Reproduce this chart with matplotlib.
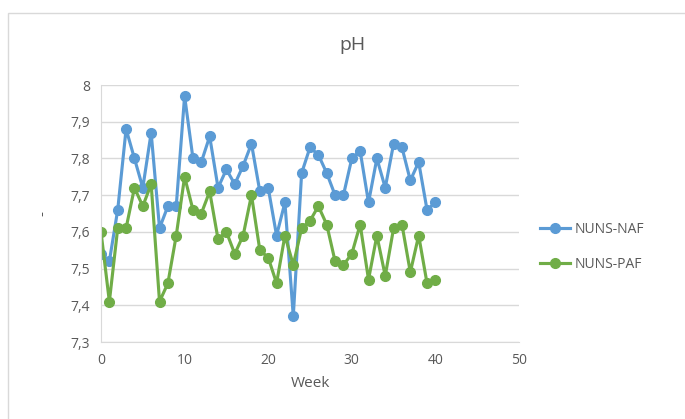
import numpy as np
import matplotlib.pyplot as plt
from matplotlib.patches import Rectangle
from matplotlib.ticker import FuncFormatter

plt.rcParams['font.family'] = ['Open Sans', 'DejaVu Sans']

weeks = list(range(0, 41))
nuns_naf = [7.54, 7.52, 7.66, 7.88, 7.80, 7.72, 7.87, 7.61, 7.67, 7.67,
            7.97, 7.80, 7.79, 7.86, 7.72, 7.77, 7.73, 7.78, 7.84, 7.71,
            7.72, 7.59, 7.68, 7.37, 7.76, 7.83, 7.81, 7.76, 7.70, 7.70,
            7.80, 7.82, 7.68, 7.80, 7.72, 7.84, 7.83, 7.74, 7.79, 7.66,
            7.68]
nuns_paf = [7.60, 7.41, 7.61, 7.61, 7.72, 7.67, 7.73, 7.41, 7.46, 7.59,
            7.75, 7.66, 7.65, 7.71, 7.58, 7.60, 7.54, 7.59, 7.70, 7.55,
            7.53, 7.46, 7.59, 7.51, 7.61, 7.63, 7.67, 7.62, 7.52, 7.51,
            7.54, 7.62, 7.47, 7.59, 7.48, 7.61, 7.62, 7.49, 7.59, 7.46,
            7.47]

fig = plt.figure(figsize=(6.85, 4.19), dpi=100)
# chart border
fig.patches.append(Rectangle((8/685, -0.1), 1.2, 1 - 13/419 + 0.1,
                             transform=fig.transFigure, fill=False,
                             edgecolor='#D9D9D9', linewidth=1))

ax = fig.add_axes([101/685, 1 - 342/419, 418/685, 257/419])
ax.plot(weeks, nuns_naf, color='#5B9BD5', lw=2.25, marker='o', ms=7,
        label='NUNS-NAF')
ax.plot(weeks, nuns_paf, color='#70AD47', lw=2.25, marker='o', ms=7,
        label='NUNS-PAF')

ax.set_xlim(0, 50)
ax.set_ylim(7.3, 8.0)
ax.set_xticks(np.arange(0, 51, 10))
ax.set_yticks(np.arange(7.3, 8.01, 0.1))
ax.yaxis.set_major_formatter(FuncFormatter(
    lambda v, p: '8' if abs(v - 8) < 1e-6 else f'{v:.1f}'.replace('.', ',')))
ax.grid(axis='y', color='#D9D9D9', lw=1)
ax.set_axisbelow(True)
for s in ['top', 'right']:
    ax.spines[s].set_visible(False)
for s in ['left', 'bottom']:
    ax.spines[s].set_color('#D9D9D9')
ax.tick_params(length=0, labelsize=10, colors='#595959', pad=8)

fig.text(352/685, 1 - 45/419, 'pH', fontsize=14, color='#595959',
         ha='center', va='center')
ax.set_xlabel('Week', fontsize=11, color='#595959', labelpad=6)
ax.set_ylabel('-', fontsize=11, color='#595959', labelpad=14)

ax.legend(loc='center left', bbox_to_anchor=(1.02, 0.37), frameon=False,
          fontsize=10, labelcolor='#595959', handlelength=2.2,
          handletextpad=0.3, labelspacing=1.4)

fig.savefig('out.png', dpi=100)
